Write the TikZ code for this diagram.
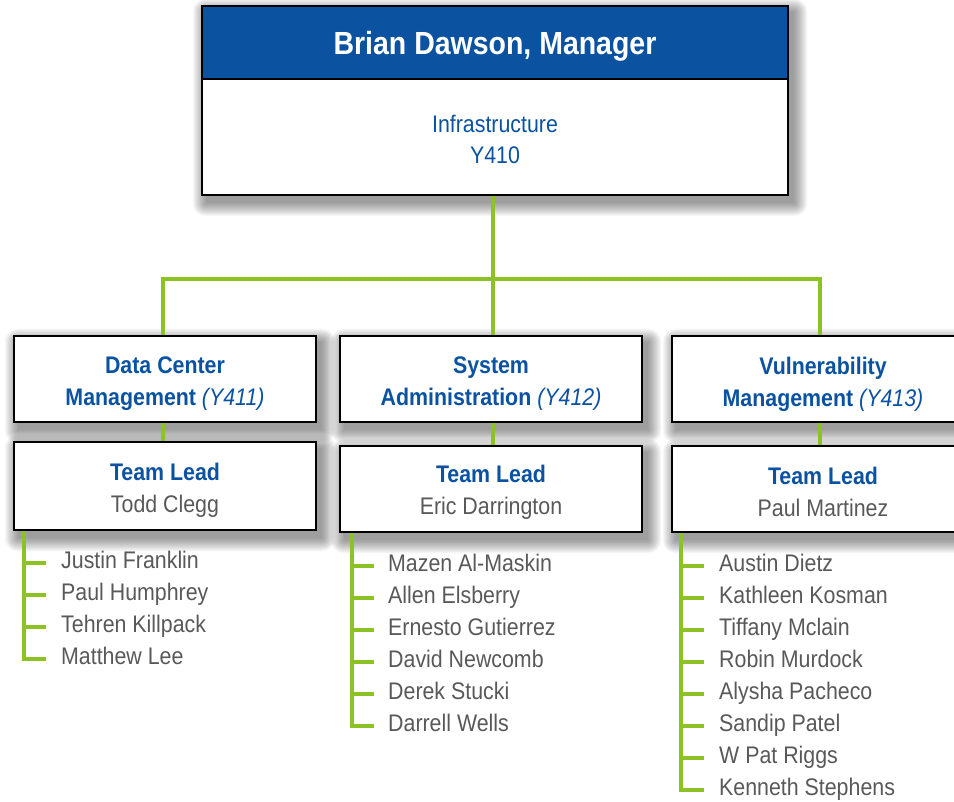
\documentclass[tikz,border=0pt]{standalone}
\usepackage{fontspec}
\setmainfont{Liberation Sans}[FakeStretch=0.89]
\usetikzlibrary{calc}
\pgfdeclarelayer{back}
\pgfdeclarelayer{shad}
\pgfdeclarelayer{bg}
\pgfsetlayers{back,shad,bg,main}
\definecolor{hdrblue}{RGB}{11,82,160}
\definecolor{namegray}{RGB}{89,89,89}
\definecolor{lineGreen}{RGB}{141,194,39}
\newcommand\boxshadow[1]{%
  \begin{pgfonlayer}{shad}
  \foreach \k in {0,...,13}
    \fill[black,opacity=0.03,rounded corners=\k pt]
      ([xshift={5pt-\k pt},yshift={-7pt-\k pt}]#1.south west) rectangle
      ([xshift={5pt+\k pt},yshift={-7pt+\k pt}]#1.north east);
  \end{pgfonlayer}}
\begin{document}
\begin{tikzpicture}[x=1pt,y=-1pt,
  box/.style={draw=black,line width=2.5pt,fill=white,inner sep=0pt},
  dept/.style={box,minimum width=302pt,minimum height=86pt},
  depttxt/.style={inner sep=0pt,align=center,text=hdrblue,
    font=\fontsize{24}{32}\selectfont\bfseries},
  leadtxt/.style={inner sep=0pt,align=center,font=\fontsize{24}{32}\selectfont},
  hdr/.style={draw=black,line width=2.5pt,fill=hdrblue,text=white,inner sep=0pt,
    font=\fontsize{32}{38}\selectfont\bfseries},
  unittxt/.style={text=hdrblue,align=center,inner sep=0pt,font=\fontsize{24}{31}\selectfont},
  member/.style={anchor=west,inner sep=0pt,text=namegray,text height=17pt,text depth=5pt,
    font=\fontsize{24}{28}\selectfont},
  conn/.style={draw=lineGreen,line width=4pt,line cap=rect}
]
\clip (0,0) rectangle (954,802);
\begin{pgfonlayer}{back}
  \fill[white] (0,0) rectangle (954,802);
\end{pgfonlayer}

% manager
\node[box,minimum width=586pt,minimum height=189pt] (mgr) at (495,100.5) {};
\node[hdr,anchor=north,minimum width=586pt,minimum height=73pt,text depth=0pt] (hdr) at (mgr.north) {\raisebox{-1pt}{Brian Dawson, Manager}};
\node[unittxt] (unit) at (495,139.5) {Infrastructure\\Y410};
\boxshadow{mgr}

% departments
\node[dept] (d1) at (165,379) {};
\node[dept] (d2) at (491,379) {};
\node[dept] (d3) at (823,379) {};
\node[depttxt] (d1l) at ([yshift=-5pt]d1.center) {Data Center\\Management {\mdseries\itshape (Y411)}};
\node[depttxt] (d2l) at ([yshift=-5pt]d2.center) {System\\Administration {\mdseries\itshape (Y412)}};
\node[depttxt] (d3l) at ([yshift=-5pt]d3.center) {Vulnerability\\Management {\mdseries\itshape (Y413)}};

% team leads
\node[box,minimum width=302pt,minimum height=88pt] (t1) at (165,486) {};
\node[box,minimum width=302pt,minimum height=86pt] (t2) at (491,489) {};
\node[box,minimum width=302pt,minimum height=86pt] (t3) at (823,489) {};
\node[leadtxt] (t1l) at ([yshift=-4pt]t1.center) {{\bfseries\color{hdrblue}Team Lead}\\{\color{namegray}Todd Clegg}};
\node[leadtxt] (t2l) at ([yshift=-3pt]t2.center) {{\bfseries\color{hdrblue}Team Lead}\\{\color{namegray}Eric Darrington}};
\node[leadtxt] (t3l) at ([yshift=-3pt]t3.center) {{\bfseries\color{hdrblue}Team Lead}\\{\color{namegray}Paul Martinez}};

\boxshadow{d1}\boxshadow{d2}\boxshadow{d3}
\boxshadow{t1}\boxshadow{t2}\boxshadow{t3}

% members
\foreach \n [count=\i] in {Justin Franklin,Paul Humphrey,Tehren Killpack,Matthew Lee}
  \node[member] (a\i) at (61,530+32*\i) {\n};
\foreach \n [count=\i] in {Mazen Al-Maskin,Allen Elsberry,Ernesto Gutierrez,David Newcomb,Derek Stucki,Darrell Wells}
  \node[member] (b\i) at (388,533+32*\i) {\n};
\foreach \n [count=\i] in {Austin Dietz,Kathleen Kosman,Tiffany Mclain,Robin Murdock,Alysha Pacheco,Sandip Patel,W Pat Riggs,Kenneth Stephens}
  \node[member] (c\i) at (719,533+32*\i) {\n};

\begin{pgfonlayer}{bg}
  \coordinate (m0) at ([xshift=-2pt]mgr.south);
  \coordinate (p1) at ([xshift=-2pt]d1.north);
  \coordinate (p2) at ([xshift=2pt]d2.north);
  \coordinate (p3) at ([xshift=-3pt]d3.north);
  \coordinate (bus) at (m0 |- 0,279);
  \draw[conn] (m0) -- (bus);
  \draw[conn] (p1) |- (bus) -| (p3);
  \draw[conn] (p2) -- (p2 |- bus);
  \draw[conn] (p1 |- d1.south) -- (p1 |- t1.north);
  \draw[conn] (p2 |- d2.south) -- (p2 |- t2.north);
  \draw[conn] (p3 |- d3.south) -- (p3 |- t3.north);
  \foreach \i in {1,...,4}
    \draw[conn] ([xshift=-37pt,yshift=-1pt]a\i.west) -- ([xshift=-17pt,yshift=-1pt]a\i.west);
  \coordinate (av) at ([xshift=-37pt,yshift=-1pt]a4.west);
  \draw[conn] (t1.south -| av) -- (av);
  \foreach \i in {1,...,6}
    \draw[conn] ([xshift=-36pt,yshift=-1pt]b\i.west) -- ([xshift=-16pt,yshift=-1pt]b\i.west);
  \coordinate (bv) at ([xshift=-36pt,yshift=-1pt]b6.west);
  \draw[conn] (t2.south -| bv) -- (bv);
  \foreach \i in {1,...,8}
    \draw[conn] ([xshift=-38pt,yshift=-1pt]c\i.west) -- ([xshift=-17pt,yshift=-1pt]c\i.west);
  \coordinate (cv) at ([xshift=-38pt,yshift=-1pt]c8.west);
  \draw[conn] (t3.south -| cv) -- (cv);
\end{pgfonlayer}
\end{tikzpicture}
\end{document}
